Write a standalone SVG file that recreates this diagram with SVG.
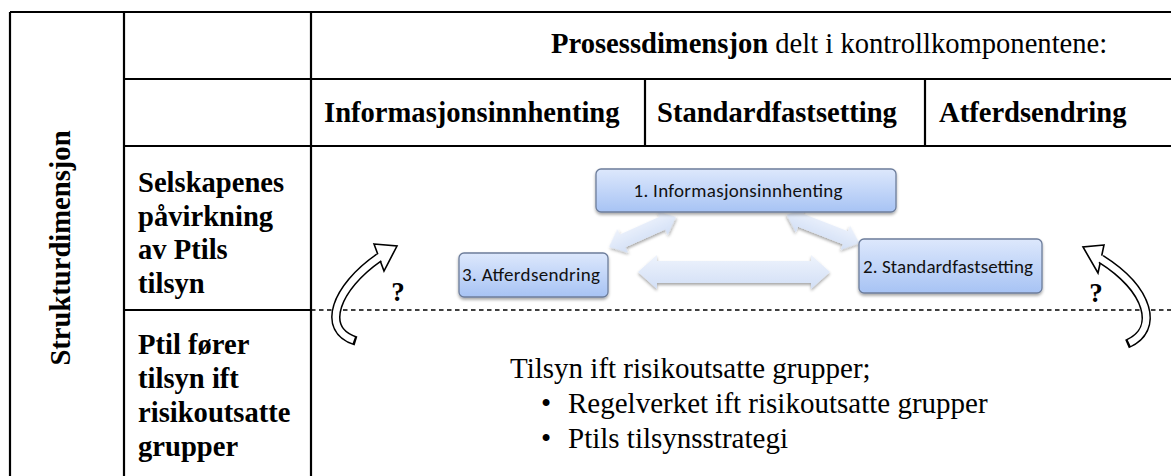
<svg xmlns="http://www.w3.org/2000/svg" width="1171" height="476" viewBox="0 0 1171 476">
<defs>
  <linearGradient id="boxGrad" x1="0" y1="0" x2="0" y2="1">
    <stop offset="0" stop-color="#dde8fc"/>
    <stop offset="1" stop-color="#a7c3f4"/>
  </linearGradient>
  <linearGradient id="arrGrad" x1="0" y1="0" x2="0" y2="1">
    <stop offset="0" stop-color="#eef3fc"/>
    <stop offset="1" stop-color="#d2dff6"/>
  </linearGradient>
  <filter id="shadow" x="-20%" y="-30%" width="140%" height="170%">
    <feDropShadow dx="0" dy="2" stdDeviation="1.5" flood-color="#000" flood-opacity="0.35"/>
  </filter>
</defs>
<style>
  .grid { stroke:#000; stroke-width:2.2; fill:none; }
  .dash { stroke:#000; stroke-width:1.6; fill:none; stroke-dasharray:4.5 3.5; }
  .hdr { font-family:"Liberation Serif","Times New Roman",serif; font-weight:bold; font-size:28.6px; fill:#000; }
  .big { font-family:"Liberation Serif","Times New Roman",serif; font-size:28.6px; fill:#000; }
  .body { font-family:"Liberation Serif","Times New Roman",serif; font-size:29px; fill:#000; }
  .q { font-family:"Liberation Serif","Times New Roman",serif; font-weight:bold; font-size:27px; fill:#000; text-anchor:middle; }
  .box rect { fill:url(#boxGrad); stroke:#6d7d9b; stroke-width:1.3; filter:url(#shadow); }
  .box text { font-family:"Carlito","Lato","Open Sans",sans-serif; font-size:19px; fill:#111; text-anchor:middle; }
  .barrow { fill:url(#arrGrad); filter:url(#shadow); }
  .cout { fill:none; stroke:#000; stroke-width:9.5; }
  .cin { fill:none; stroke:#fff; stroke-width:6.5; }
  .head { fill:#fff; stroke:#000; stroke-width:1.6; stroke-linejoin:miter; }
</style>
<rect width="1171" height="476" fill="#fff"/>

<g id="table">
  <path class="grid" d="M10,12 H1171 M124,79 H1171 M124,146 H1171 M10,12 V476 M124,12 V476 M311,12 V476 M645,79 V146 M925,79 V146 M124,310 H311"/>
  <path class="dash" d="M311,310 H1171"/>
</g>

<g id="headers">
  <text class="big" x="551" y="53"><tspan font-weight="bold">Prosessdimensjon</tspan> delt i kontrollkomponentene:</text>
  <text class="hdr" x="324" y="122">Informasjonsinnhenting</text>
  <text class="hdr" x="657" y="122">Standardfastsetting</text>
  <text class="hdr" x="939" y="122">Atferdsendring</text>
  <text class="hdr" transform="translate(70,248) rotate(-90)" text-anchor="middle">Strukturdimensjon</text>
</g>

<g id="row-labels">
  <text class="hdr" x="138" y="192">Selskapenes</text>
  <text class="hdr" x="138" y="226">påvirkning</text>
  <text class="hdr" x="138" y="259">av Ptils</text>
  <text class="hdr" x="138" y="293">tilsyn</text>
  <text class="hdr" x="138" y="354">Ptil fører</text>
  <text class="hdr" x="138" y="388">tilsyn ift</text>
  <text class="hdr" x="138" y="422">risikoutsatte</text>
  <text class="hdr" x="138" y="456">grupper</text>
</g>

<g id="connectors">
  <polygon class="barrow" transform="translate(642.5,232) rotate(-24.1)" points="-36.7,0 -21.7,-13 -21.7,-7 21.7,-7 21.7,-13 36.7,0 21.7,13 21.7,7 -21.7,7 -21.7,13"/>
  <polygon class="barrow" transform="translate(823,229) rotate(21.3)" points="-39,0 -24,-13 -24,-7 24,-7 24,-13 39,0 24,13 24,7 -24,7 -24,13"/>
  <polygon class="barrow" transform="translate(734,272)" points="-96,0 -77,-17 -77,-11 77,-11 77,-17 96,0 77,17 77,11 -77,11 -77,17"/>
</g>

<g id="node-info" class="box">
  <rect x="596" y="169" width="300" height="43" rx="5"/>
  <text x="738" y="197" textLength="209" lengthAdjust="spacing">1. Informasjonsinnhenting</text>
</g>
<g id="node-atferd" class="box">
  <rect x="459" y="253" width="149" height="44" rx="5"/>
  <text x="531" y="281" textLength="138" lengthAdjust="spacing">3. Atferdsendring</text>
</g>
<g id="node-standard" class="box">
  <rect x="859" y="239" width="183" height="54" rx="5"/>
  <text x="948" y="273" textLength="170" lengthAdjust="spacing">2. Standardfastsetting</text>
</g>

<g id="curved-left">
  <polygon class="head" points="374,244 397,246 384,271"/>
  <path class="cout" d="M356,341 C320,330 335,288 379,257.5"/>
  <path class="cin" pathLength="100" stroke-dasharray="0 2 200" d="M356,341 C320,330 335,288 379,257.5 L383,255"/>
  <text class="q" x="398" y="301">?</text>
</g>
<g id="curved-right">
  <polygon class="head" points="1104,245 1083,247 1098,273"/>
  <path class="cout" d="M1127,344 C1160,330 1150,290 1101,259"/>
  <path class="cin" pathLength="100" stroke-dasharray="0 2 200" d="M1127,344 C1160,330 1150,290 1101,259 L1097.5,257"/>
  <text class="q" x="1096" y="302">?</text>
</g>

<g id="body-text">
  <text class="body" x="510" y="378">Tilsyn ift risikoutsatte grupper;</text>
  <text class="body" x="541" y="413">•</text>
  <text class="body" x="568" y="413">Regelverket ift risikoutsatte grupper</text>
  <text class="body" x="541" y="448">•</text>
  <text class="body" x="568" y="448">Ptils tilsynsstrategi</text>
</g>
</svg>
